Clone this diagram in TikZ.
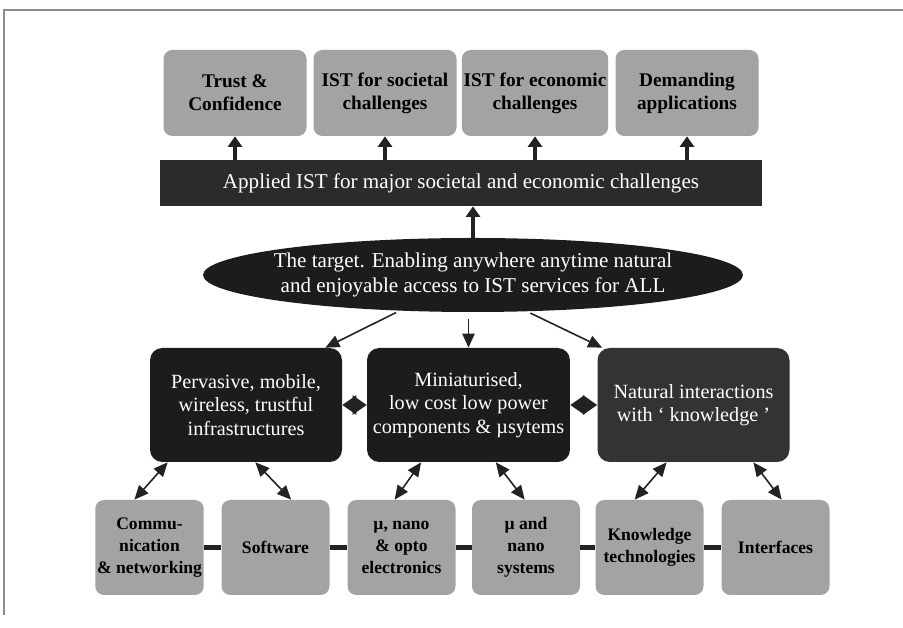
\documentclass[tikz,border=0pt]{standalone}
\usepackage{fontspec}
\setmainfont{Liberation Serif}
\usetikzlibrary{shapes.geometric,arrows.meta}
\definecolor{boxgray}{HTML}{A3A3A3}
\definecolor{darkfill}{HTML}{1C1C1C}
\definecolor{natfill}{HTML}{333333}
\definecolor{barfill}{HTML}{2B2B2B}
\definecolor{arrowcol}{HTML}{222222}
\definecolor{frameline}{HTML}{8C8C8C}
\begin{document}
\begin{tikzpicture}[
		topbox/.style={fill=boxgray, rounded corners=5pt, minimum width=2.86cm, minimum height=1.72cm, align=center, inner sep=1pt, font=\fontsize{11}{13}\selectfont\bfseries},
		midbox/.style={fill=darkfill, rounded corners=7pt, minimum width=3.84cm, minimum height=2.28cm, align=center, text=white, font=\fontsize{11.5}{13.4}\selectfont},
		lowbox/.style={fill=boxgray, rounded corners=5pt, minimum width=2.16cm, minimum height=1.9cm, align=center, inner sep=1pt, font=\fontsize{10}{12.5}\selectfont\bfseries},
		uparrow/.style={arrowcol, line width=2.2pt, -{Triangle[length=6pt,width=8pt]}},
		thinarrow/.style={arrowcol, line width=0.9pt, -{Triangle[length=8pt,width=7pt]}},
		bothway/.style={arrowcol, line width=0.9pt, {Triangle[length=8pt,width=7pt]}-{Triangle[length=8pt,width=7pt]}},
		sidearrow/.style={arrowcol, line width=0.8pt, {Triangle[length=8pt,width=11pt]}-{Triangle[length=8pt,width=11pt]}},
		link/.style={arrowcol, line width=2.8pt}
	]
	\useasboundingbox (0,0) rectangle (18.06,12.56);
	% scanned frame
	\draw[frameline, line width=0.8pt] (0.08,0.26) -- (0.08,12.36) -- (18.06,12.36);

	% applications
	\node[topbox] (trust) at (4.70,10.70) {Trust \&\\Confidence};
	\node[topbox] (societal) at (7.70,10.70) {IST for societal\\challenges};
	\node[topbox] (economic) at (10.70,10.70) {IST for economic\\challenges};
	\node[topbox] (demanding) at (13.74,10.70) {Demanding\\applications};
	\node[fill=barfill, minimum width=12.04cm, minimum height=0.92cm, text=white, font=\fontsize{12}{14}\selectfont] (applied) at (9.22,8.90) {Applied IST for major societal and economic challenges};

	% the target
	\node[ellipse, fill=darkfill, minimum width=10.8cm, minimum height=1.48cm] (target) at (9.46,7.06) {};
	\node[text=white, align=center, font=\fontsize{12}{14.2}\selectfont] (targettext) at (target) {The target. Enabling anywhere anytime natural\\and enjoyable access to IST services for ALL};

	% three pillars
	\node[midbox] (pervasive) at (4.92,4.46) {Pervasive, mobile,\\wireless, trustful\\infrastructures};
	\node[midbox] (miniature) at (9.37,4.46) {Miniaturised,\\low cost low power\\components \& µsytems};
	\node[midbox, fill=natfill] (natural) at (13.87,4.46) {Natural interactions\\with ‘ knowledge ’};

	% technologies
	\node[lowbox] (comms) at (2.99,1.61) {Commu-\\nication\\\& networking};
	\node[lowbox] (software) at (5.51,1.61) {Software};
	\node[lowbox] (nanoel) at (8.03,1.61) {µ, nano\\\& opto\\electronics};
	\node[lowbox] (nanosys) at (10.52,1.61) {µ and\\nano\\systems};
	\node[lowbox] (knowtech) at (12.99,1.61) {Knowledge\\technologies};
	\node[lowbox] (interfaces) at (15.51,1.61) {Interfaces};

	\draw[uparrow] (trust.south |- applied.north) -- (trust.south);
	\draw[uparrow] (societal.south |- applied.north) -- (societal.south);
	\draw[uparrow] (economic.south |- applied.north) -- (economic.south);
	\draw[uparrow] (demanding.south |- applied.north) -- (demanding.south);
	\draw[uparrow] (target.north) -- (target.north |- applied.south);

	\draw[thinarrow, shorten <=2pt] (target.206) -- ([xshift=-0.34cm]pervasive.north east);
	\draw[thinarrow, shorten <=4pt] (target.south -| miniature.north) -- (miniature.north);
	\draw[thinarrow, shorten <=2pt] (target.326) -- ([xshift=0.1cm]natural.north west);

	\draw[sidearrow] (pervasive.east) -- (miniature.west);
	\draw[sidearrow] (miniature.east) -- (natural.west);

	\draw[bothway] ([xshift=0.36cm]pervasive.south west) -- ([xshift=0.79cm]comms.north west);
	\draw[bothway] ([xshift=-1.74cm]pervasive.south east) -- ([xshift=1.4cm]software.north west);
	\draw[bothway] ([xshift=1.09cm]miniature.south west) -- ([xshift=0.95cm]nanoel.north west);
	\draw[bothway] ([xshift=-1.49cm]miniature.south east) -- ([xshift=1.06cm]nanosys.north west);
	\draw[bothway] ([xshift=1.39cm]natural.south west) -- ([xshift=0.79cm]knowtech.north west);
	\draw[bothway] ([xshift=-0.73cm]natural.south east) -- ([xshift=1.21cm]interfaces.north west);

	\draw[link] (comms.east) -- (software.west);
	\draw[link] (software.east) -- (nanoel.west);
	\draw[link] (nanoel.east) -- (nanosys.west);
	\draw[link] (nanosys.east) -- (knowtech.west);
	\draw[link] (knowtech.east) -- (interfaces.west);
\end{tikzpicture}
\end{document}
